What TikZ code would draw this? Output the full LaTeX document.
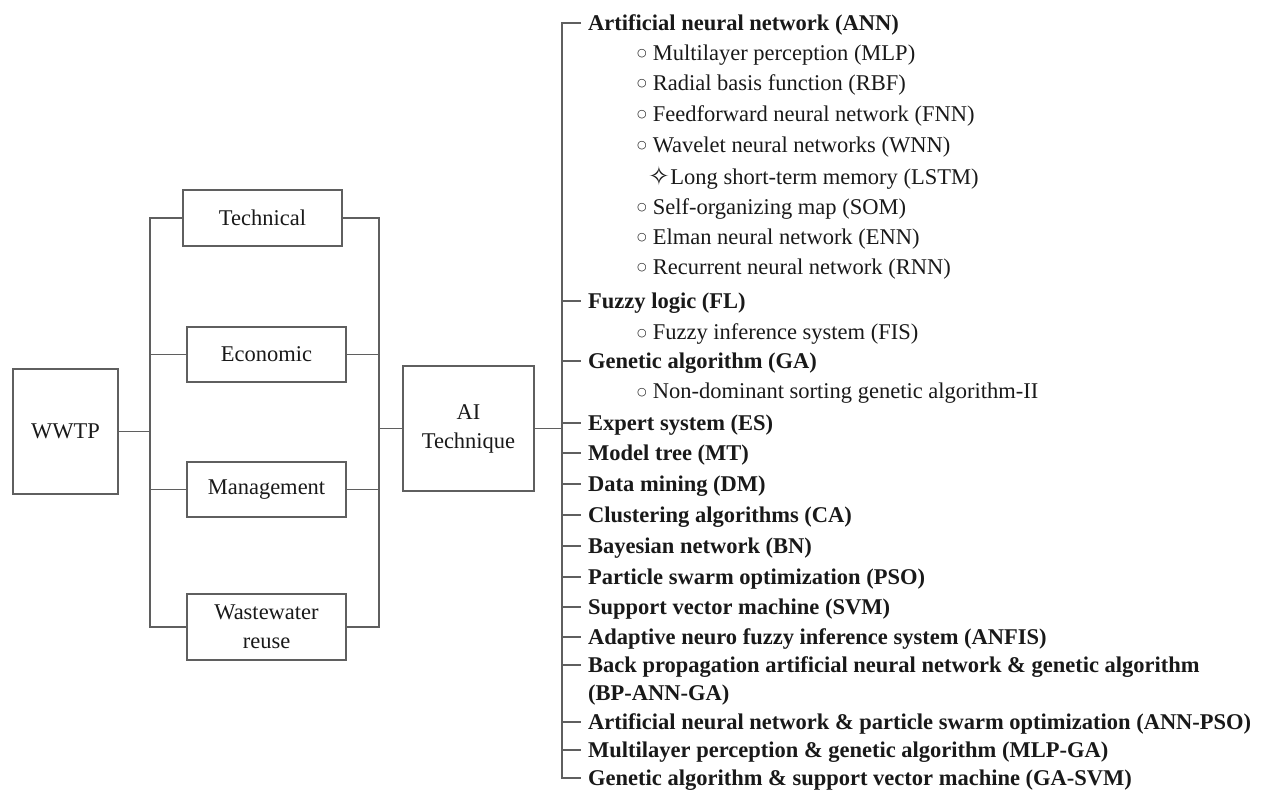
\documentclass[tikz,border=0pt]{standalone}
\usepackage{fontspec}
\setmainfont{Liberation Serif}
\newfontfamily\symfont{DejaVu Sans}
\definecolor{linegray}{RGB}{95,95,95}
\definecolor{inkblack}{RGB}{25,25,25}
\newcommand{\wbul}{\raisebox{3.5pt}{\symfont\fontsize{11}{11}\selectfont ○}\hspace{6pt}}
\newcommand{\wstar}{\raisebox{-1pt}{\symfont\fontsize{26}{26}\selectfont ✧}\hspace{0.5pt}}
\begin{document}
\begin{tikzpicture}[x=1pt,y=-1pt,
  line/.style={draw=linegray, line width=1.4pt},
  box/.style={draw=linegray, line width=1.4pt, inner sep=0pt, align=center,
    text=inkblack, font=\fontsize{22.5}{29}\selectfont},
  item/.style={anchor=west, inner sep=0pt, text height=15pt, text depth=0pt,
    text=inkblack, font=\fontsize{22.5}{29}\selectfont},
  head/.style={item, font=\fontsize{22.5}{29}\selectfont\bfseries},
]
\useasboundingbox (0,0) rectangle (1273,791);

% left part: plant and its four aspects
\node[box, minimum width=105pt, minimum height=125pt] (wwtp) at (65.5,431.5) {WWTP};
\node[box, minimum width=159pt, minimum height=56pt] (tech) at (262.5,218) {Technical};
\node[box, minimum width=159pt, minimum height=55pt] (econ) at (266.5,354.5) {Economic};
\node[box, minimum width=159pt, minimum height=55pt] (mgmt) at (266.5,489.5) {Management};
\node[box, minimum width=159pt, minimum height=66pt] (reuse) at (266.5,627) {Wastewater\\reuse};
\node[box, minimum width=131pt, minimum height=125pt] (ai) at (468.5,428.5) {AI\\Technique};

\coordinate (lspine) at (150,0);
\coordinate (rspine) at (379,0);
\coordinate (tspine) at (562,0);

\draw[line] (tech.west) -- (tech.west -| lspine) -- (reuse.west -| lspine) -- (reuse.west);
\draw[line] (econ.west) -- (econ.west -| lspine);
\draw[line] (mgmt.west) -- (mgmt.west -| lspine);
\draw[line] (wwtp.east) -- (wwtp.east -| lspine);

\draw[line] (tech.east) -- (tech.east -| rspine) -- (reuse.east -| rspine) -- (reuse.east);
\draw[line] (econ.east) -- (econ.east -| rspine);
\draw[line] (mgmt.east) -- (mgmt.east -| rspine);
\draw[line] (ai.west) -- (ai.west -| rspine);
\draw[line] (ai.east) -- (ai.east -| tspine);

% list of techniques
\node[head] (ann) at (588,23) {Artificial neural network (ANN)};
\node[item] (mlp) at (637,53) {\wbul Multilayer perception (MLP)};
\node[item] (rbf) at (637,83) {\wbul Radial basis function (RBF)};
\node[item] (fnn) at (637,114) {\wbul Feedforward neural network (FNN)};
\node[item] (wnn) at (637,145) {\wbul Wavelet neural networks (WNN)};
\node[item] (lstm) at (648,177) {\wstar Long short-term memory (LSTM)};
\node[item] (som) at (637,207) {\wbul Self-organizing map (SOM)};
\node[item] (enn) at (637,237) {\wbul Elman neural network (ENN)};
\node[item] (rnn) at (637,267) {\wbul Recurrent neural network (RNN)};
\node[head] (fl) at (588,301) {Fuzzy logic (FL)};
\node[item] (fis) at (637,332) {\wbul Fuzzy inference system (FIS)};
\node[head] (ga) at (588,361) {Genetic algorithm (GA)};
\node[item] (nsga) at (637,391) {\wbul Non-dominant sorting genetic algorithm-II};
\node[head] (es) at (588,423) {Expert system (ES)};
\node[head] (mt) at (588,453) {Model tree (MT)};
\node[head] (dm) at (588,484) {Data mining (DM)};
\node[head] (ca) at (588,515) {Clustering algorithms (CA)};
\node[head] (bn) at (588,546) {Bayesian network (BN)};
\node[head] (pso) at (588,577) {Particle swarm optimization (PSO)};
\node[head] (svm) at (588,607) {Support vector machine (SVM)};
\node[head] (anfis) at (588,637) {Adaptive neuro fuzzy inference system (ANFIS)};
\node[head] (bp) at (588,665) {Back propagation artificial neural network \& genetic algorithm};
\node[head] (bpb) at (588,693) {(BP-ANN-GA)};
\node[head] (annpso) at (588,722) {Artificial neural network \& particle swarm optimization (ANN-PSO)};
\node[head] (mlpga) at (588,750) {Multilayer perception \& genetic algorithm (MLP-GA)};
\node[head] (gasvm) at (588,778) {Genetic algorithm \& support vector machine (GA-SVM)};

\draw[line] ([xshift=-7pt]ann.west) -- (ann.west -| tspine) -- (gasvm.west -| tspine) -- ([xshift=-7pt]gasvm.west);
\foreach \n in {fl,ga,es,mt,dm,ca,bn,pso,svm,anfis,bp,annpso,mlpga}
  \draw[line] (\n.west -| tspine) -- ([xshift=-7pt]\n.west);
\end{tikzpicture}
\end{document}
